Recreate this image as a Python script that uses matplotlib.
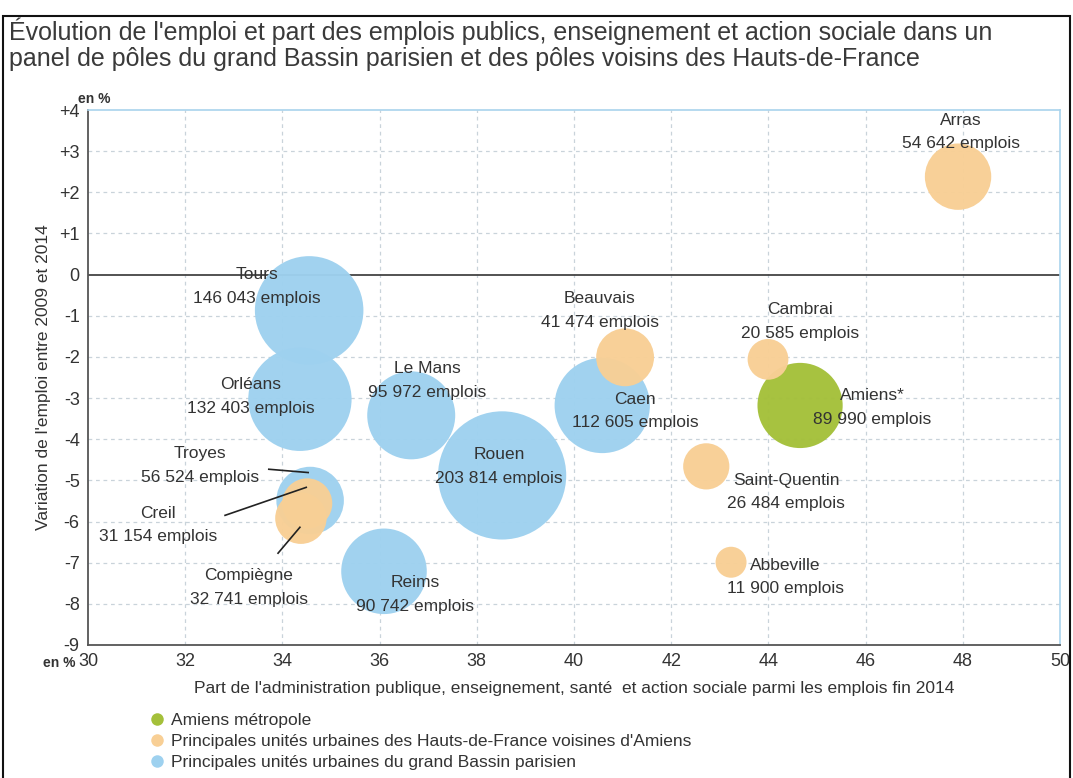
import matplotlib
matplotlib.use("Agg")
import matplotlib.pyplot as plt
from matplotlib.lines import Line2D
from matplotlib.patches import Rectangle
import numpy as np

plt.rcParams['font.family'] = ['Liberation Sans', 'DejaVu Sans']

# ---- data ----
cities = ["Arras", "Tours", "Beauvais", "Cambrai", "Le Mans", "Orléans", "Caen",
          "Amiens*", "Rouen", "Troyes", "Saint-Quentin", "Creil", "Abbeville",
          "Compiègne", "Reims"]
share_public = [47.9, 34.55, 41.05, 43.99, 36.65, 34.36, 40.58,
                44.65, 38.52, 34.57, 42.72, 34.51, 43.23, 34.38, 36.09]
emp_change = [2.38, -0.87, -2.01, -2.06, -3.42, -3.03, -3.18,
              -3.18, -4.88, -5.49, -4.66, -5.56, -6.99, -5.92, -7.21]
jobs = [54642, 146043, 41474, 20585, 95972, 132403, 112605,
        89990, 203814, 56524, 26484, 31154, 11900, 32741, 90742]
groups = ["hdf", "bp", "hdf", "hdf", "bp", "bp", "bp",
          "amiens", "bp", "bp", "hdf", "hdf", "hdf", "hdf", "bp"]
group_labels = {"amiens": "Amiens métropole",
                "hdf": "Principales unités urbaines des Hauts-de-France voisines d'Amiens",
                "bp": "Principales unités urbaines du grand Bassin parisien"}
x_ticks = [30, 32, 34, 36, 38, 40, 42, 44, 46, 48, 50]
y_ticks = [4, 3, 2, 1, 0, -1, -2, -3, -4, -5, -6, -7, -8, -9]
y_tick_labels = ["+4", "+3", "+2", "+1", "0", "-1", "-2", "-3", "-4", "-5",
                 "-6", "-7", "-8", "-9"]

colors = {"amiens": "#a4c03a", "hdf": "#f8cf95", "bp": "#9ed1ef"}
TXT = "#333333"

# label anchor positions (data units)
label_pos = {
    "Arras": (47.96, 3.47), "Tours": (33.48, -0.29), "Beauvais": (40.53, -0.87),
    "Cambrai": (44.65, -1.14), "Le Mans": (36.98, -2.57), "Orléans": (33.35, -2.96),
    "Caen": (41.26, -3.32), "Amiens*": (46.13, -3.23), "Rouen": (38.46, -4.66),
    "Troyes": (32.3, -4.64), "Saint-Quentin": (44.36, -5.29), "Creil": (31.44, -6.09),
    "Abbeville": (44.34, -7.35), "Compiègne": (33.31, -7.60), "Reims": (36.73, -7.77),
}

fig = plt.figure(figsize=(10.73, 7.78), dpi=100)
ax = fig.add_axes([0.082, 0.171, 0.906, 0.6876])

ax.set_xlim(30, 50)
ax.set_ylim(-9, 4)

# grid
for xv in x_ticks[1:-1]:
    ax.axvline(xv, color="#c9d3da", lw=0.9, ls=(0, (3, 3)), zorder=0)
for yv in y_ticks[1:-1]:
    if yv != 0:
        ax.axhline(yv, color="#c9d3da", lw=0.9, ls=(0, (3, 3)), zorder=0)
ax.axhline(0, color="#444444", lw=1.3, zorder=1)

# bubbles: area proportional to jobs
k = 0.142  # px per sqrt(job)
sizes = [(2 * k * np.sqrt(j) * 72 / fig.dpi) ** 2 for j in jobs]
order = [1, 5, 4, 8, 6, 14, 9, 7, 0, 2, 3, 10, 12, 11, 13]
for i in order:
    ax.scatter(share_public[i], emp_change[i], s=sizes[i], color=colors[groups[i]],
               edgecolors="none", alpha=0.97, zorder=2)

def fmt(n):
    return f"{n:,}".replace(",", " ") + " emplois"

for i, c in enumerate(cities):
    lx, ly = label_pos[c]
    ax.text(lx, ly, c + "\n" + fmt(jobs[i]), ha="center", va="center",
            fontsize=12.5, color=TXT, linespacing=1.7, zorder=5)

# leader lines
leaders = {"Troyes": ((33.72, -4.73), (34.53, -4.81)),
           "Creil": ((32.82, -5.85), (34.49, -5.17)),
           "Compiègne": ((33.91, -6.77), (34.36, -6.14))}
for c, ((x0, y0), (x1, y1)) in leaders.items():
    ax.plot([x0, x1], [y0, y1], color="#222222", lw=1.2, zorder=6)

ax.set_xticks(x_ticks)
ax.set_yticks(y_ticks)
ax.set_yticklabels(y_tick_labels)
ax.tick_params(length=0, labelsize=13, colors=TXT, pad=6)
for sp in ["top", "right"]:
    ax.spines[sp].set_color("#a9d3ec")
    ax.spines[sp].set_linewidth(1.2)
for sp in ["left", "bottom"]:
    ax.spines[sp].set_color("#555555")
    ax.spines[sp].set_linewidth(1.3)

ax.set_xlabel("Part de l'administration publique, enseignement, santé  et action sociale parmi les emplois fin 2014",
              fontsize=12.5, color=TXT, labelpad=8)
ax.set_ylabel("Variation de l'emploi entre 2009 et 2014", fontsize=12.5, color=TXT, labelpad=6)

fig.text(0.073, 0.868, "en %", fontsize=10, fontweight="bold", color=TXT)
fig.text(0.040, 0.143, "en %", fontsize=10, fontweight="bold", color=TXT)

fig.text(0.008, 0.978,
         "Évolution de l'emploi et part des emplois publics, enseignement et action sociale dans un\n"
         "panel de pôles du grand Bassin parisien et des pôles voisins des Hauts-de-France",
         fontsize=18, color="#3a3a3a", va="top", ha="left", linespacing=1.12)

# legend
handles = [Line2D([], [], marker="o", ls="none", markersize=9, markerfacecolor=colors[g],
                  markeredgecolor="none", label=group_labels[g]) for g in ["amiens", "hdf", "bp"]]
fig.legend(handles=handles, loc="upper left", bbox_to_anchor=(0.13, 0.095), frameon=False,
           fontsize=12.5, labelcolor=TXT, handletextpad=0.3, labelspacing=0.35,
           borderpad=0, handlelength=1.0)

# outer frame
fig.add_artist(Rectangle((0.003, -0.01), 0.994, 0.99, transform=fig.transFigure,
                         fill=False, ec="#111111", lw=1.5))

fig.savefig("out.png", dpi=100)
